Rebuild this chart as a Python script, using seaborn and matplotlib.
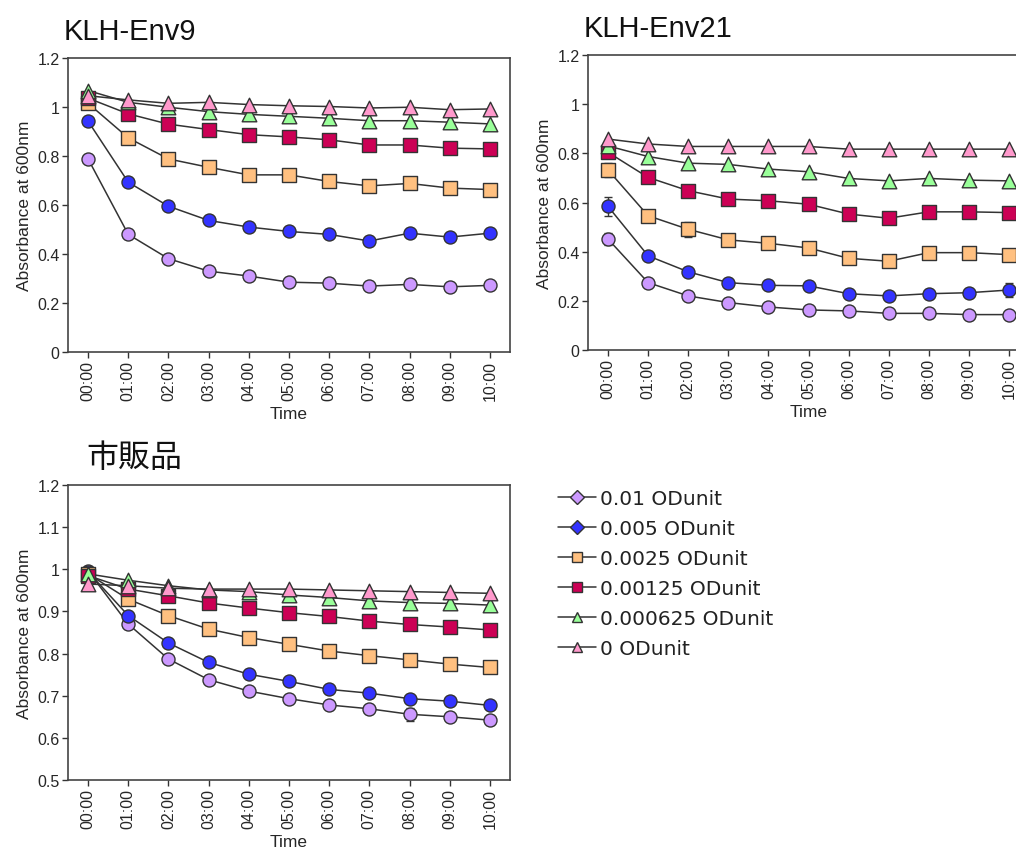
import numpy as np
import pandas as pd
import matplotlib
matplotlib.use("Agg")
import matplotlib.pyplot as plt
from matplotlib.lines import Line2D
from matplotlib.ticker import FuncFormatter
import seaborn as sns

# Time points (hh:mm)
times = ["00:00", "01:00", "02:00", "03:00", "04:00", "05:00",
         "06:00", "07:00", "08:00", "09:00", "10:00"]

# Series labels (enzyme amount)
series = ["0.01 ODunit", "0.005 ODunit", "0.0025 ODunit",
          "0.00125 ODunit", "0.000625 ODunit", "0 ODunit"]

# KLH-Env9: absorbance at 600 nm
env9_001 = [0.788, 0.480, 0.381, 0.330, 0.310, 0.285, 0.281, 0.269, 0.276, 0.266, 0.272]
env9_0005 = [0.942, 0.693, 0.595, 0.537, 0.510, 0.492, 0.480, 0.453, 0.485, 0.469, 0.485]
env9_00025 = [1.015, 0.874, 0.788, 0.754, 0.723, 0.723, 0.696, 0.678, 0.688, 0.669, 0.663]
env9_000125 = [1.036, 0.972, 0.930, 0.908, 0.887, 0.878, 0.866, 0.845, 0.845, 0.832, 0.829]
env9_0000625 = [1.067, 1.019, 0.999, 0.981, 0.970, 0.962, 0.954, 0.944, 0.944, 0.938, 0.931]
env9_0 = [1.046, 1.029, 1.015, 1.019, 1.010, 1.005, 1.002, 0.996, 0.999, 0.989, 0.992]

# KLH-Env21
env21_001 = [0.451, 0.274, 0.220, 0.193, 0.175, 0.163, 0.159, 0.149, 0.149, 0.144, 0.144]
env21_0005 = [0.584, 0.383, 0.318, 0.274, 0.263, 0.261, 0.229, 0.220, 0.229, 0.233, 0.244]
env21_00025 = [0.732, 0.546, 0.491, 0.448, 0.434, 0.415, 0.373, 0.361, 0.396, 0.396, 0.388]
env21_000125 = [0.804, 0.702, 0.648, 0.614, 0.607, 0.593, 0.553, 0.536, 0.562, 0.562, 0.559]
env21_0000625 = [0.830, 0.787, 0.760, 0.755, 0.736, 0.725, 0.698, 0.688, 0.698, 0.691, 0.688]
env21_0 = [0.858, 0.838, 0.828, 0.828, 0.828, 0.828, 0.817, 0.817, 0.817, 0.817, 0.817]

# Commercial product (市販品)
com_001 = [0.996, 0.870, 0.787, 0.738, 0.711, 0.693, 0.678, 0.669, 0.656, 0.650, 0.642]
com_0005 = [0.994, 0.890, 0.825, 0.779, 0.751, 0.734, 0.715, 0.706, 0.693, 0.687, 0.677]
com_00025 = [0.989, 0.929, 0.890, 0.858, 0.838, 0.822, 0.806, 0.795, 0.785, 0.775, 0.767]
com_000125 = [0.985, 0.953, 0.937, 0.920, 0.908, 0.897, 0.888, 0.877, 0.869, 0.863, 0.856]
com_0000625 = [0.989, 0.974, 0.961, 0.951, 0.947, 0.939, 0.933, 0.925, 0.921, 0.919, 0.915]
com_0 = [0.965, 0.961, 0.955, 0.953, 0.953, 0.953, 0.951, 0.949, 0.947, 0.945, 0.943]

# Standard deviations (only visible ones are non-zero)
env21_err_001 = [0.025, 0, 0, 0, 0, 0, 0, 0, 0, 0, 0]
env21_err_0005 = [0.04, 0, 0, 0, 0, 0, 0, 0, 0, 0, 0.03]
env21_err_00025 = [0.03, 0, 0.03, 0, 0, 0, 0, 0, 0, 0, 0]
com_err_001 = [0, 0, 0, 0, 0, 0, 0.008, 0, 0.015, 0, 0]

colors = ["#CC99FF", "#3333FF", "#FFC080", "#CC0055", "#99FF99", "#FF99CC"]
markers = ["o", "o", "s", "s", "^", "^"]
sizes = [88, 88, 88, 88, 110, 110]
legend_markers = ["D", "D", "s", "s", "^", "^"]

panels = [
    dict(title="KLH-Env9",
         data=[env9_001, env9_0005, env9_00025, env9_000125, env9_0000625, env9_0],
         err=None, ylim=(0, 1.2), yticks=np.arange(0, 1.21, 0.2),
         rect=[68, 59, 442, 294], tpos=(64, 40), tsize=21),
    dict(title="KLH-Env21",
         data=[env21_001, env21_0005, env21_00025, env21_000125, env21_0000625, env21_0],
         err=[env21_err_001, env21_err_0005, env21_err_00025, None, None, None],
         ylim=(0, 1.2), yticks=np.arange(0, 1.21, 0.2),
         rect=[588, 56, 441, 295], tpos=(584, 37), tsize=21),
    dict(title="市販品",
         data=[com_001, com_0005, com_00025, com_000125, com_0000625, com_0],
         err=[com_err_001, None, None, None, None, None],
         ylim=(0.5, 1.2), yticks=np.arange(0.5, 1.21, 0.1),
         rect=[68, 486, 442, 295], tpos=(86, 467), tsize=23),
]

sns.set_theme(style="white")
plt.rcParams["font.family"] = ["Liberation Sans", "Noto Sans CJK JP", "DejaVu Sans"]

W, H = 1016, 854
fig = plt.figure(figsize=(W / 100, H / 100), dpi=100)
fig.patch.set_facecolor("white")

x = np.arange(len(times))
fmt = FuncFormatter(lambda v, _: f"{v:.10g}" if abs(v) > 1e-9 else "0")

for p in panels:
    l, t, w, h = p["rect"]
    ax = fig.add_axes([l / W, 1 - (t + h) / H, w / W, h / H])
    ax.set_facecolor("white")
    for i, (vals, c, m, s) in enumerate(zip(p["data"], colors, markers, sizes)):
        df = pd.DataFrame({"x": x, "y": vals})
        sns.lineplot(data=df, x="x", y="y", color="#333333", lw=1.1, ax=ax,
                     zorder=2, legend=False)
        if p["err"] is not None and p["err"][i] is not None:
            e = np.array(p["err"][i])
            mask = e > 0
            ax.errorbar(x[mask], np.array(vals)[mask], yerr=e[mask], fmt="none",
                        ecolor="#333333", elinewidth=1, capsize=3, zorder=2)
        sns.scatterplot(data=df, x="x", y="y", marker=m, color=c, s=s,
                        edgecolor="#333333", linewidth=1, ax=ax, zorder=3 + i,
                        legend=False)
    ax.set_xlim(-0.5, len(times) - 0.5)
    ax.set_ylim(*p["ylim"])
    ax.set_yticks(p["yticks"])
    ax.yaxis.set_major_formatter(fmt)
    ax.set_xticks(x)
    ax.set_xticklabels(times, rotation=90, fontsize=11.5)
    ax.tick_params(axis="y", labelsize=11.5)
    ax.tick_params(axis="both", direction="out", length=4, width=1,
                   color="#333333", left=True, bottom=True, pad=2)
    for sp in ax.spines.values():
        sp.set_color("#444444")
        sp.set_linewidth(1.2)
    ax.set_xlabel("Time", fontsize=12.5, labelpad=4)
    ax.set_ylabel("Absorbance at 600nm", fontsize=12.5, labelpad=4)
    fig.text(p["tpos"][0] / W, 1 - p["tpos"][1] / H, p["title"],
             fontsize=p["tsize"], va="baseline", ha="left", color="#111111")

handles = [Line2D([0], [0], color="#333333", lw=1.1, marker=m, markersize=7.5,
                  markerfacecolor=c, markeredgecolor="#333333")
           for c, m in zip(colors, legend_markers)]
fig.legend(handles, series, loc="upper left",
           bbox_to_anchor=(550 / W, 1 - 482 / H), frameon=False,
           handlelength=1.9, handletextpad=0.2,
           labelspacing=0.55, borderaxespad=0,
           labelcolor="#222222",
           prop={"family": ["DejaVu Sans"], "size": 14.5})

fig.savefig("out.png", dpi=100, facecolor="white")
